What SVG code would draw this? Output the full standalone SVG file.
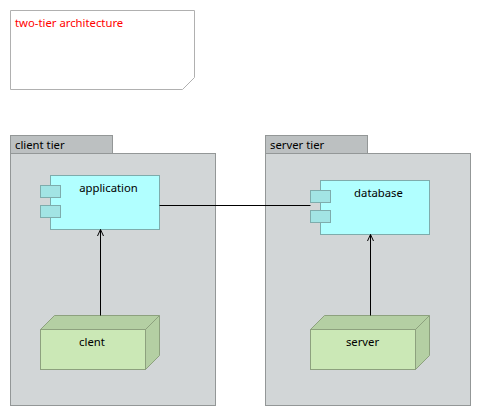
<svg xmlns="http://www.w3.org/2000/svg" width="481" height="416" viewBox="0 0 481 416">
<defs>
<marker id="open" markerUnits="userSpaceOnUse" markerWidth="10" markerHeight="10" refX="8" refY="5" orient="auto"><path d="M1.500,2 L8,5 L1.500,8" fill="none" stroke="#000" stroke-width="1"/></marker>
</defs>
<style>
text{font-family:"Noto Sans","DejaVu Sans",sans-serif;font-size:11.300px;fill:#000}
.note{fill:#fff;stroke:#b0b0b0}
.pkg{fill:#d2d6d7;stroke:#939797}
.tab{fill:#bcc0c1;stroke:#939797}
.comp{fill:#b1ffff;stroke:#7eacac}
.port{fill:#a2e4e4;stroke:#7eacac}
.front{fill:#cbe8b6;stroke:#8da17e}
.side{fill:#b4cfa3;stroke:#8da17e}
.c{fill:none;stroke:#000;stroke-width:1}
</style>
<rect width="481" height="416" fill="#fff"/>
<g id="note"><path class="note" d="M10.5,10.5H194.5V77.5L182.5,89.5H10.5Z"/><text x="15" y="27" style="fill:#f00">two-tier architecture</text></g>
<g id="client-tier"><rect class="tab" x="10.5" y="135.5" width="102" height="18"/><rect class="pkg" x="10.5" y="153.5" width="205" height="252"/><text x="15" y="149">client tier</text></g>
<g id="server-tier"><rect class="tab" x="265.5" y="135.5" width="102" height="18"/><rect class="pkg" x="265.5" y="153.5" width="205" height="252"/><text x="270" y="149">server tier</text></g>
<g id="application"><rect class="comp" x="50.5" y="175.5" width="109" height="54"/><rect class="port" x="40.5" y="185.5" width="20" height="12"/><rect class="port" x="40.5" y="205.5" width="20" height="12"/><text x="108.500" y="192" text-anchor="middle">application</text></g>
<g id="database"><rect class="comp" x="320.5" y="180.5" width="109" height="54"/><rect class="port" x="310.5" y="190.5" width="20" height="12"/><rect class="port" x="310.5" y="210.5" width="20" height="12"/><text x="378.500" y="197" text-anchor="middle">database</text></g>
<g id="clent"><path class="side" d="M40.5,329.5L54.5,315.500H159.500V355.500L145.500,369.500V329.500Z"/><path class="side" d="M145.500,329.500L159.500,315.500"/><rect class="front" x="40.500" y="329.500" width="105" height="40"/><text x="92" y="346" text-anchor="middle">clent</text></g>
<g id="server"><path class="side" d="M310.5,329.5L324.5,315.500H429.500V355.500L415.500,369.500V329.500Z"/><path class="side" d="M415.500,329.500L429.500,315.500"/><rect class="front" x="310.500" y="329.500" width="105" height="40"/><text x="362.500" y="346" text-anchor="middle">server</text></g>
<g id="connectors">
<path class="c" d="M159.500,205.500H310.500"/>
<path class="c" marker-end="url(#open)" d="M100.500,315.500V229.500"/>
<path class="c" marker-end="url(#open)" d="M370.500,315.500V234.500"/>
</g>
</svg>
